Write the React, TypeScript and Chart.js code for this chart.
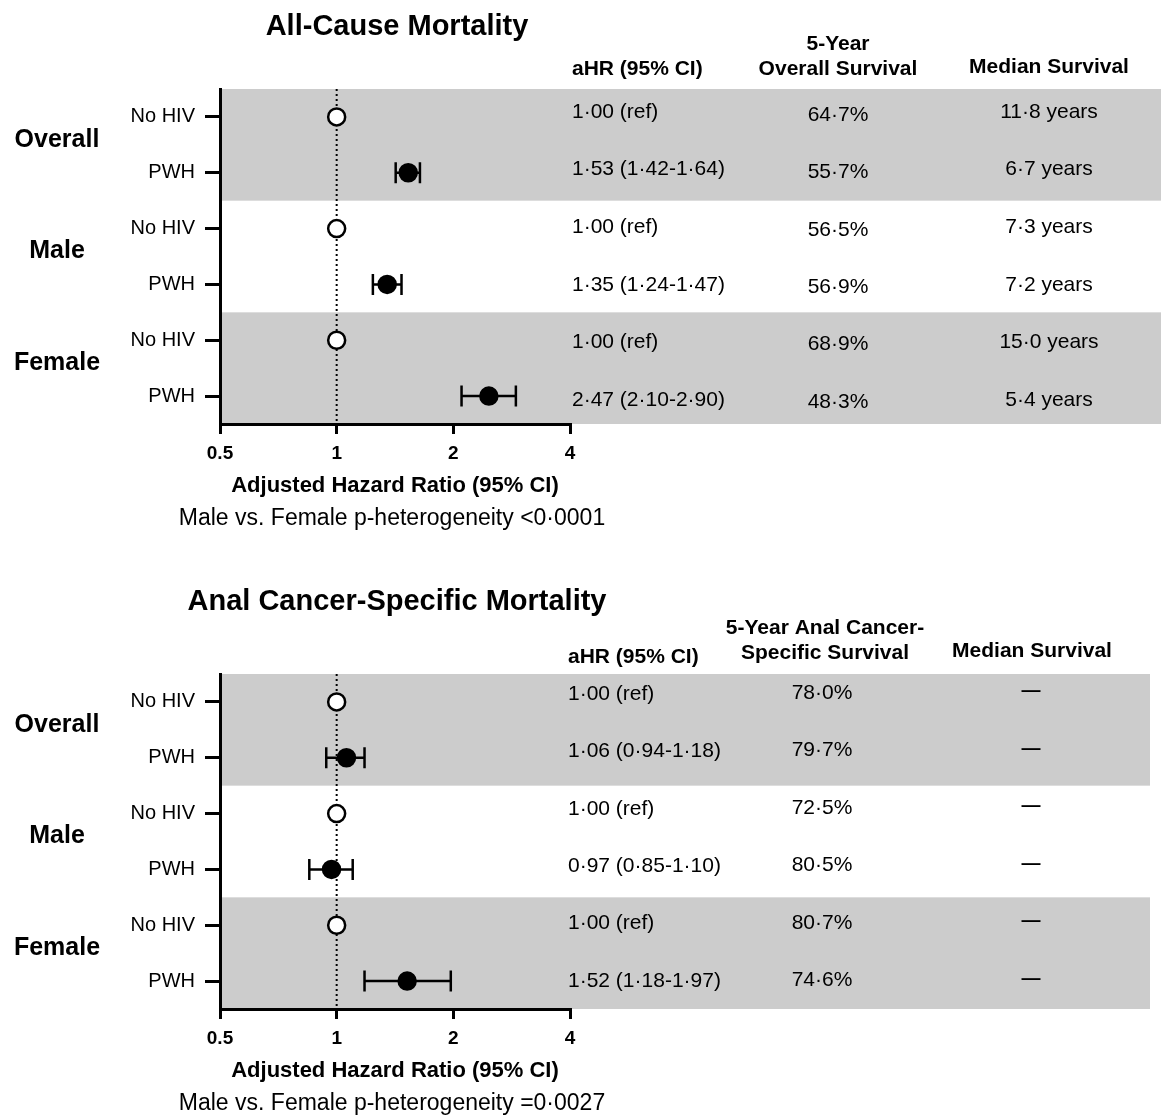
import { useEffect, useRef } from 'react';
import { Chart, registerables } from 'chart.js';

Chart.register(...registerables);

const FONT = '"Liberation Sans", Arial, Helvetica, sans-serif';

// Row structure shared by both panels
const GROUPS = ['Overall', 'Male', 'Female'];
const ROW_LABELS = ['No HIV', 'PWH', 'No HIV', 'PWH', 'No HIV', 'PWH'];
const IS_REF = [true, false, true, false, true, false];
const X_TICKS = [0.5, 1, 2, 4];

// All-cause mortality
const AC_HR = [1.0, 1.53, 1.0, 1.35, 1.0, 2.47];
const AC_LO = [null, 1.42, null, 1.24, null, 2.1];
const AC_HI = [null, 1.64, null, 1.47, null, 2.9];
const AC_SURV5 = [64.7, 55.7, 56.5, 56.9, 68.9, 48.3];
const AC_MEDIAN = [11.8, 6.7, 7.3, 7.2, 15.0, 5.4];

// Anal cancer-specific mortality
const CS_HR = [1.0, 1.06, 1.0, 0.97, 1.0, 1.52];
const CS_LO = [null, 0.94, null, 0.85, null, 1.18];
const CS_HI = [null, 1.18, null, 1.1, null, 1.97];
const CS_SURV5 = [78.0, 79.7, 72.5, 80.5, 80.7, 74.6];
const CS_MEDIAN = [null, null, null, null, null, null];

const dot = (s: string) => s.replace(/\./g, '\u00b7');
const fmtHR = (i: number, hr: number[], lo: (number | null)[], hi: (number | null)[]) =>
  lo[i] == null
    ? `${dot(hr[i].toFixed(2))} (ref)`
    : `${dot(hr[i].toFixed(2))} (${dot((lo[i] as number).toFixed(2))}-${dot((hi[i] as number).toFixed(2))})`;

type Panel = {
  title: string;
  hr: number[];
  lo: (number | null)[];
  hi: (number | null)[];
  surv: number[];
  median: (number | null)[];
  survHeader: string[];
  pHet: string;
  height: number;
  titleY: number;
  hdr: { aX: number; aY: number; sX: number; sY: number[]; mX: number; mY: number };
  cols: {
    aX: number; aFirst: number; aStep: number;
    sX: number; sFirst: number; sStep: number;
    mX: number; mFirst: number; mStep: number;
  };
  bandRight: number;
};

const PANELS: Panel[] = [
  {
    title: 'All-Cause Mortality',
    hr: AC_HR, lo: AC_LO, hi: AC_HI, surv: AC_SURV5, median: AC_MEDIAN,
    survHeader: ['5-Year', 'Overall Survival'],
    pHet: 'Male vs. Female p-heterogeneity <0\u00b70001',
    height: 585,
    titleY: 27,
    hdr: { aX: 572, aY: 69, sX: 838, sY: [44, 69], mX: 1049, mY: 67 },
    cols: { aX: 572, aFirst: 112, aStep: 57.6, sX: 838, sFirst: 115, sStep: 57.4, mX: 1049, mFirst: 112, mStep: 57.6 },
    bandRight: 1161,
  },
  {
    title: 'Anal Cancer-Specific Mortality',
    hr: CS_HR, lo: CS_LO, hi: CS_HI, surv: CS_SURV5, median: CS_MEDIAN,
    survHeader: ['5-Year Anal Cancer-', 'Specific Survival'],
    pHet: 'Male vs. Female p-heterogeneity =0\u00b70027',
    height: 534,
    titleY: 17,
    hdr: { aX: 568, aY: 72, sX: 825, sY: [43, 68], mX: 1032, mY: 66 },
    cols: { aX: 568, aFirst: 109, aStep: 57.4, sX: 822, sFirst: 108, sStep: 57.5, mX: 1031, mFirst: 106, mStep: 57.5 },
    bandRight: 1150,
  },
];

const PLOT_TOP = 89;
const PLOT_BOTTOM = 424;
const PLOT_LEFT = 220;
const PLOT_RIGHT = 570;
const X_AXIS_HEIGHT = 75;

function text(ctx: CanvasRenderingContext2D, s: string, x: number, y: number, font: string, align: CanvasTextAlign) {
  ctx.font = font;
  ctx.textAlign = align;
  ctx.textBaseline = 'middle';
  ctx.fillStyle = '#000';
  ctx.fillText(s, x, y);
}

function makeForestPlugin(p: Panel) {
  return {
    id: 'forest',
    beforeDraw(chart: any) {
      const { ctx, chartArea, scales } = chart;
      const y = scales.y;
      ctx.save();
      ctx.fillStyle = '#cccccc';
      [0, 2].forEach((g) => {
        const top = y.getPixelForValue(g * 2 - 0.5);
        const bot = y.getPixelForValue(g * 2 + 1.5);
        ctx.fillRect(chartArea.left, top, p.bandRight - chartArea.left, bot - top);
      });
      ctx.restore();
    },
    beforeDatasetsDraw(chart: any) {
      const { ctx, chartArea, scales } = chart;
      const x = scales.x;
      const y = scales.y;
      ctx.save();
      // reference line at HR = 1
      const x1 = x.getPixelForValue(1);
      ctx.strokeStyle = '#000';
      ctx.lineWidth = 2;
      ctx.setLineDash([2, 3]);
      ctx.beginPath();
      ctx.moveTo(x1, chartArea.top);
      ctx.lineTo(x1, chartArea.bottom);
      ctx.stroke();
      ctx.setLineDash([]);
      // confidence interval whiskers
      ctx.lineWidth = 2.5;
      p.hr.forEach((_, i) => {
        const lo = p.lo[i];
        const hi = p.hi[i];
        if (lo == null || hi == null) return;
        const py = y.getPixelForValue(i);
        const xl = x.getPixelForValue(lo);
        const xh = x.getPixelForValue(hi);
        ctx.beginPath();
        ctx.moveTo(xl, py);
        ctx.lineTo(xh, py);
        ctx.moveTo(xl, py - 10.5);
        ctx.lineTo(xl, py + 10.5);
        ctx.moveTo(xh, py - 10.5);
        ctx.lineTo(xh, py + 10.5);
        ctx.stroke();
      });
      ctx.restore();
    },
    afterDraw(chart: any) {
      const { ctx, scales, chartArea } = chart;
      const y = scales.y;
      ctx.save();
      const bold = (s: number) => `bold ${s}px ${FONT}`;
      const reg = (s: number) => `${s}px ${FONT}`;
      const cx = (chartArea.left + chartArea.right) / 2;
      text(ctx, p.title, cx + 2, p.titleY, bold(29), 'center');
      // column headers
      text(ctx, 'aHR (95% CI)', p.hdr.aX, p.hdr.aY, bold(21), 'left');
      p.survHeader.forEach((h, k) => text(ctx, h, p.hdr.sX, p.hdr.sY[k], bold(21), 'center'));
      text(ctx, 'Median Survival', p.hdr.mX, p.hdr.mY, bold(21), 'center');
      // group labels
      GROUPS.forEach((g, k) => {
        const mid = (y.getPixelForValue(k * 2) + y.getPixelForValue(k * 2 + 1)) / 2;
        text(ctx, g, 57, mid - 5, bold(25), 'center');
      });
      // table rows
      const c = p.cols;
      p.hr.forEach((_, i) => {
        text(ctx, fmtHR(i, p.hr, p.lo, p.hi), c.aX, c.aFirst + i * c.aStep, reg(21), 'left');
        text(ctx, `${dot(p.surv[i].toFixed(1))}%`, c.sX, c.sFirst + i * c.sStep, reg(21), 'center');
        const m = p.median[i];
        if (m == null) {
          text(ctx, '\u2014', c.mX, c.mFirst + i * c.mStep, bold(19), 'center');
        } else {
          text(ctx, `${dot(m.toFixed(1))} years`, c.mX, c.mFirst + i * c.mStep, reg(21), 'center');
        }
      });
      // heterogeneity note
      text(ctx, p.pHet, cx - 3, 519, reg(23), 'center');
      ctx.restore();
    },
  };
}

function ForestPanel({ panel }: { panel: Panel }) {
  const ref = useRef<HTMLCanvasElement | null>(null);
  useEffect(() => {
    const canvas = ref.current;
    if (!canvas) return;
    const chart = new Chart(canvas, {
      type: 'scatter',
      data: {
        datasets: [
          {
            data: panel.hr.map((v, i) => ({ x: v, y: i })),
            pointRadius: 8.5,
            pointHoverRadius: 8.5,
            pointBorderWidth: 2.5,
            pointBorderColor: '#000',
            pointBackgroundColor: IS_REF.map((r) => (r ? '#ffffff' : '#000000')),
            showLine: false,
            clip: false,
          } as any,
        ],
      },
      options: {
        animation: false,
        responsive: false,
        devicePixelRatio: 1,
        events: [],
        layout: {
          padding: {
            top: PLOT_TOP,
            left: 0,
            right: 1161 - PLOT_RIGHT,
            bottom: panel.height - PLOT_BOTTOM - X_AXIS_HEIGHT,
          },
        },
        plugins: { legend: { display: false }, tooltip: { enabled: false }, title: { display: false } },
        scales: {
          x: {
            type: 'logarithmic',
            min: 0.5,
            max: 4,
            afterBuildTicks: (s: any) => {
              s.ticks = X_TICKS.map((v) => ({ value: v }));
            },
            afterFit: (s: any) => {
              s.height = X_AXIS_HEIGHT;
            },
            ticks: {
              callback: (v: any) => String(v),
              font: { family: FONT, size: 19, weight: 'bold' },
              color: '#000',
              padding: 8,
              maxRotation: 0,
              autoSkip: false,
            },
            grid: { drawOnChartArea: false, drawTicks: true, tickLength: 10, color: '#000', lineWidth: 3 },
            border: { display: true, color: '#000', width: 3 },
            title: {
              display: true,
              text: 'Adjusted Hazard Ratio (95% CI)',
              font: { family: FONT, size: 22, weight: 'bold' },
              color: '#000',
              padding: 0,
            },
          },
          y: {
            type: 'linear',
            min: -0.5,
            max: 5.5,
            reverse: true,
            afterBuildTicks: (s: any) => {
              s.ticks = ROW_LABELS.map((_, i) => ({ value: i }));
            },
            afterFit: (s: any) => {
              s.width = PLOT_LEFT;
            },
            ticks: {
              callback: (v: any) => ROW_LABELS[v as number] ?? '',
              font: { family: FONT, size: 20 },
              color: '#000',
              padding: 10,
              autoSkip: false,
            },
            grid: { drawOnChartArea: false, drawTicks: true, tickLength: 15, color: '#000', lineWidth: 3 },
            border: { display: true, color: '#000', width: 3 },
          },
        },
      } as any,
      plugins: [makeForestPlugin(panel)],
    });
    return () => chart.destroy();
  }, [panel]);
  return (
    <canvas
      ref={ref}
      width={1161}
      height={panel.height}
      style={{ display: 'block', width: 1161, height: panel.height }}
    />
  );
}

export default function App() {
  return (
    <div style={{ position: 'absolute', left: 0, top: 0, width: 1161, background: '#fff' }}>
      {PANELS.map((p) => (
        <ForestPanel key={p.title} panel={p} />
      ))}
    </div>
  );
}
